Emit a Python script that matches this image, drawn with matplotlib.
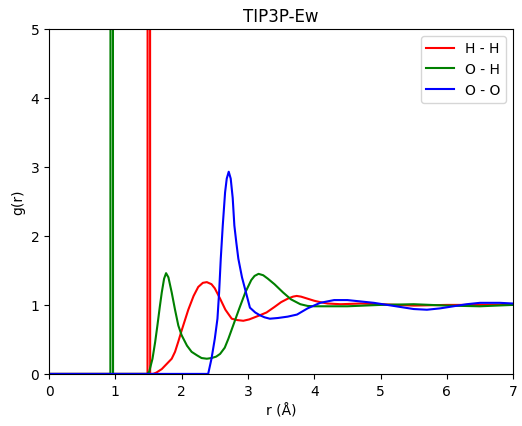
import matplotlib
matplotlib.use("Agg")
import matplotlib.pyplot as plt

# H - H radial distribution
r_hh = [0.0, 1.485, 1.505, 1.525, 1.57, 1.62, 1.7, 1.78, 1.85, 1.9, 1.95, 2.0,
        2.1, 2.18, 2.25, 2.32, 2.38, 2.45, 2.5, 2.58, 2.66, 2.755, 2.84, 2.93,
        3.02, 3.1, 3.18, 3.28, 3.4, 3.5, 3.6, 3.68, 3.735, 3.8, 3.9, 4.0, 4.09,
        4.2, 4.4, 4.7, 5.0, 5.5, 6.0, 6.5, 7.0]
g_hh = [0.0, 0.0, 80.0, 0.0, 0.0, 0.02, 0.07, 0.15, 0.22, 0.32, 0.47, 0.63,
        0.93, 1.13, 1.26, 1.32, 1.33, 1.30, 1.24, 1.09, 0.93, 0.80, 0.78, 0.77,
        0.79, 0.82, 0.85, 0.89, 0.97, 1.04, 1.09, 1.12, 1.13, 1.12, 1.09, 1.06, 1.04,
        1.02, 1.01, 1.02, 1.01, 0.99, 1.0, 1.0, 1.0]

# O - H
r_oh = [0.0, 0.925, 0.945, 0.965, 1.48, 1.51, 1.56, 1.6, 1.634, 1.67, 1.70, 1.735,
        1.765, 1.80, 1.85, 1.90, 1.95, 2.0, 2.08, 2.15, 2.23, 2.30, 2.38, 2.45,
        2.52, 2.58, 2.65, 2.705, 2.78, 2.87, 2.96, 3.05, 3.1, 3.16, 3.23, 3.3,
        3.4, 3.53, 3.65, 3.79, 3.9, 4.0, 4.5, 5.0, 5.5, 6.0, 6.5, 7.0]
g_oh = [0.0, 0.0, 80.0, 0.0, 0.0, 0.03, 0.22, 0.46, 0.70, 0.97, 1.18, 1.38,
        1.46, 1.40, 1.18, 0.93, 0.70, 0.56, 0.41, 0.32, 0.27, 0.23, 0.22, 0.23,
        0.25, 0.29, 0.38, 0.51, 0.71, 0.95, 1.18, 1.36, 1.42, 1.45, 1.43, 1.38,
        1.30, 1.18, 1.08, 1.01, 0.985, 0.98, 0.98, 1.0, 1.01, 0.99, 0.98, 1.0]

# O - O
r_oo = [0.0, 2.40, 2.45, 2.50, 2.54, 2.565, 2.59, 2.62, 2.655, 2.68, 2.71, 2.74,
        2.77, 2.795, 2.825, 2.855, 2.91, 2.97, 3.03, 3.11, 3.18, 3.25, 3.33, 3.45,
        3.6, 3.74, 3.9, 4.09, 4.3, 4.5, 4.7, 4.9, 5.1, 5.3, 5.5, 5.7, 5.9, 6.1,
        6.3, 6.5, 6.8, 7.0]
g_oo = [0.0, 0.0, 0.22, 0.51, 0.80, 1.18, 1.67, 2.15, 2.63, 2.83, 2.93, 2.83,
        2.55, 2.15, 1.90, 1.67, 1.40, 1.18, 0.96, 0.89, 0.85, 0.82, 0.80, 0.81,
        0.83, 0.86, 0.95, 1.03, 1.07, 1.07, 1.05, 1.03, 1.0, 0.97, 0.94,
        0.93, 0.95, 0.98, 1.01, 1.03, 1.03, 1.02]

fig = plt.figure(figsize=(5.22, 4.27), dpi=100)
ax = fig.add_axes([0.094, 0.122, 0.889, 0.808])

ax.plot(r_hh, g_hh, color="red", lw=1.5, label="H - H")
ax.plot(r_oh, g_oh, color="green", lw=1.5, label="O - H")
ax.plot(r_oo, g_oo, color="blue", lw=1.5, label="O - O")

ax.set_xlim(0, 7)
ax.set_ylim(0, 5)
ax.set_xlabel("r (Å)")
ax.set_ylabel("g(r)")
ax.set_title("TIP3P-Ew")
ax.legend(loc="upper right")

fig.savefig("out.png", dpi=100)
